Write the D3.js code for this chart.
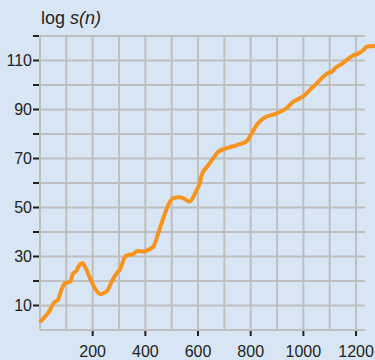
<!DOCTYPE html>
<html>
<head>
<meta charset="utf-8">
<script src="https://cdn.jsdelivr.net/npm/d3@7"></script>
<style>
  html, body { margin: 0; padding: 0; background: #d8e5f4; }
  svg { display: block; }
  text { font-family: "Liberation Sans", Arial, Helvetica, sans-serif; fill: #231f20; }
</style>
</head>
<body>
<svg id="chart" width="375" height="360"></svg>
<script>
// n values along the curve
const nValues = [3, 19, 38, 51, 69, 82, 95, 114, 126, 139, 145, 162, 171, 190, 209, 228, 240, 257, 272, 291,
  304, 323, 335, 354, 369, 392, 411, 430, 449, 468, 487, 506, 532, 551, 567, 589, 608, 614, 639, 658,
  677, 709, 747, 785, 804, 823, 848, 899, 937, 962, 987, 1006, 1025, 1051, 1076, 1095, 1108, 1120,
  1146, 1165, 1184, 1209, 1228, 1241, 1272];
// log s(n) at each n
const logS = [3.7, 5.4, 8.2, 10.9, 12.5, 16.6, 19.1, 19.7, 23.1, 24.2, 25.8, 27.2, 25.8, 21.1, 17.0, 14.7, 15.0, 16.3, 19.7, 23.1,
  24.8, 29.9, 30.6, 31.0, 32.2, 32.0, 32.7, 34.0, 39.5, 45.6, 51.0, 53.8, 54.2, 53.3, 52.4, 55.8, 60.5, 63.3, 67.3, 70.1,
  72.8, 74.2, 75.5, 77.1, 80.3, 83.7, 86.4, 88.4, 90.6, 93.2, 94.6, 95.9, 98.0, 100.7, 103.4, 105.0, 105.4, 106.8,
  108.6, 110.2, 111.8, 112.9, 114.3, 115.6, 115.9];

const xGrid = d3.range(0, 1201, 100);
const xTickLabels = [200, 400, 600, 800, 1000, 1200];
const yGrid = d3.range(0, 121, 10);
const yTickLabels = [10, 30, 50, 70, 90, 110];
const yTickMarks = d3.range(10, 121, 10);
const yTitle = "log ";
const yTitleItalic = "s(n)";

const svg = d3.select("#chart");
const plotLeft = 40, plotRight = 365, plotTop = 36, plotBottom = 330;

const x = d3.scaleLinear().domain([0, 1234]).range([plotLeft, plotRight]);
const y = d3.scaleLinear().domain([0, 120]).range([plotBottom, plotTop]);

// grid
const grid = svg.append("g").attr("stroke", "#bfbfbf").attr("stroke-width", 2);
grid.selectAll("line.v").data(xGrid).join("line")
  .attr("class", "v")
  .attr("x1", d => x(d)).attr("x2", d => x(d))
  .attr("y1", plotTop).attr("y2", plotBottom);
grid.selectAll("line.h").data(yGrid).join("line")
  .attr("class", "h")
  .attr("x1", plotLeft).attr("x2", plotRight)
  .attr("y1", d => y(d)).attr("y2", d => y(d));

// y axis ticks and labels
const yAxis = svg.append("g");
yAxis.selectAll("line").data(yTickMarks).join("line")
  .attr("x1", plotLeft - 7).attr("x2", plotLeft - 1)
  .attr("y1", d => y(d)).attr("y2", d => y(d))
  .attr("stroke", "#231f20").attr("stroke-width", 2);
yAxis.selectAll("text").data(yTickLabels).join("text")
  .attr("x", 32).attr("y", d => y(d))
  .attr("dy", "0.36em")
  .attr("text-anchor", "end")
  .attr("font-size", 16)
  .text(d => d);

// x axis ticks and labels
const xAxis = svg.append("g");
xAxis.selectAll("line").data(xTickLabels).join("line")
  .attr("x1", d => x(d)).attr("x2", d => x(d))
  .attr("y1", plotBottom + 1).attr("y2", plotBottom + 6)
  .attr("stroke", "#231f20").attr("stroke-width", 2);
xAxis.selectAll("text").data(xTickLabels).join("text")
  .attr("x", d => x(d)).attr("y", 357)
  .attr("text-anchor", "middle")
  .attr("font-size", 16)
  .text(d => d);

// axis title
const title = svg.append("text").attr("x", 41).attr("y", 24).attr("font-size", 18);
title.append("tspan").text(yTitle);
title.append("tspan").attr("font-style", "italic").text(yTitleItalic);

// curve
const pts = nValues.map((n, i) => [n, logS[i]]);
svg.append("path")
  .datum(pts)
  .attr("fill", "none")
  .attr("stroke", "#f7941d")
  .attr("stroke-width", 4)
  .attr("stroke-linejoin", "round")
  .attr("stroke-linecap", "round")
  .attr("d", d3.line().x(d => x(d[0])).y(d => y(d[1])).curve(d3.curveMonotoneX));
</script>
</body>
</html>
